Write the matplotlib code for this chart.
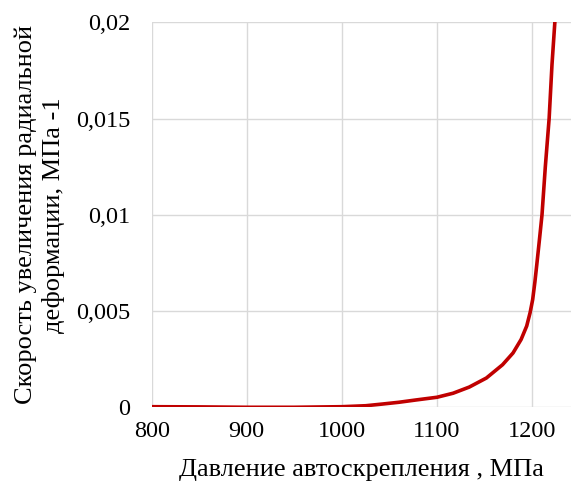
import numpy as np
import matplotlib
matplotlib.use('Agg')
import matplotlib.pyplot as plt

## data ##
pressure = [800, 850, 900, 950, 1000, 1025, 1043, 1060, 1078, 1100, 1117,
            1134, 1152, 1169, 1180, 1188.5, 1194.4, 1198, 1200.7, 1203, 1205,
            1208, 1210.5, 1214, 1218, 1221, 1224, 1225]
rate = [0.00003, 0.00002, 0.0, 0.0, 0.00003, 0.00008, 0.00017, 0.00026,
        0.00038, 0.00052, 0.00073, 0.00105, 0.00152, 0.00221, 0.00282,
        0.00352, 0.00422, 0.00492, 0.0056, 0.0065, 0.0074, 0.0088, 0.0100,
        0.0125, 0.0150, 0.0178, 0.0200, 0.0205]

xticks = [800, 900, 1000, 1100, 1200]
yticks = [0, 0.005, 0.01, 0.015, 0.02]
ytick_labels = ['0', '0,005', '0,01', '0,015', '0,02']

plt.rcParams['font.family'] = ['Liberation Serif', 'DejaVu Serif']

fig = plt.figure(figsize=(5.71, 4.87), dpi=100)
ax = fig.add_axes([0.2657, 0.1637, 1 - 0.2657, 0.9542 - 0.1637])

ax.plot(pressure, rate, color='#C00000', lw=2.6, solid_joinstyle='round')

ax.set_xlim(800, 1241)
ax.set_ylim(0, 0.02)
ax.set_xticks(xticks)
ax.set_yticks(yticks)
ax.set_yticklabels(ytick_labels)
ax.grid(True, color='#d9d9d9', lw=1.0)
ax.set_axisbelow(True)
for s in ax.spines.values():
    s.set_visible(False)
ax.tick_params(length=0, labelsize=17.5)
ax.tick_params(axis='y', pad=15.5)
ax.tick_params(axis='x', pad=10)

ax.set_xlabel('Давление автоскрепления , МПа', fontsize=19, labelpad=12)
ax.set_ylabel('Скорость увеличения радиальной\nдеформации, МПа -1', fontsize=19,
              labelpad=8, linespacing=1.25)

fig.savefig('out.png', dpi=100)
